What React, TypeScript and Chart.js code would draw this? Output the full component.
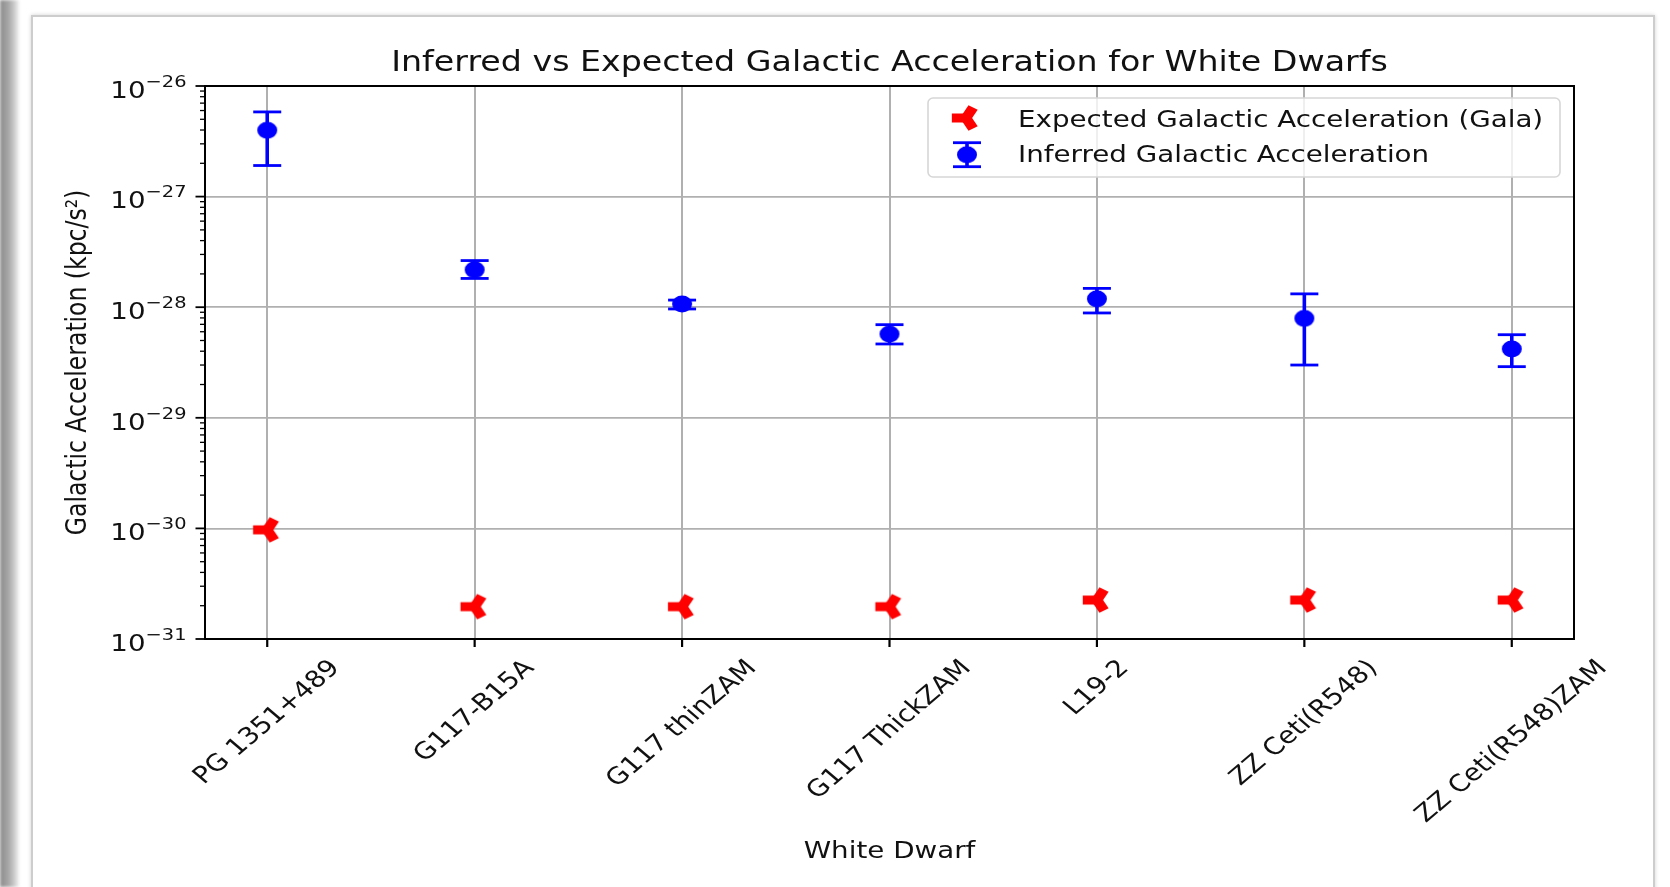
import React, { useEffect, useRef } from 'react';
import { Chart, registerables } from 'chart.js';

Chart.register(...registerables);

// ---------------- data ----------------
const categories = [
  'PG 1351+489',
  'G117-B15A',
  'G117 thinZAM',
  'G117 ThickZAM',
  'L19-2',
  'ZZ Ceti(R548)',
  'ZZ Ceti(R548)ZAM',
];
const expectedAccel = [9.7e-31, 1.96e-31, 1.96e-31, 1.96e-31, 2.25e-31, 2.25e-31, 2.25e-31];
const inferredAccel = [3.98e-27, 2.18e-28, 1.07e-28, 5.71e-29, 1.19e-28, 7.92e-29, 4.19e-29];
const inferredUpper = [5.83e-27, 2.64e-28, 1.16e-28, 6.95e-29, 1.48e-28, 1.32e-28, 5.64e-29];
const inferredLower = [1.91e-27, 1.82e-28, 9.64e-29, 4.65e-29, 8.87e-29, 3.0e-29, 2.9e-29];
const yExponents = [-31, -30, -29, -28, -27, -26];

const titleText = 'Inferred vs Expected Galactic Acceleration for White Dwarfs';
const xLabelText = 'White Dwarf';
const yLabelText = 'Galactic Acceleration (kpc/s²)';
const legendLabels = ['Expected Galactic Acceleration (Gala)', 'Inferred Galactic Acceleration'];

// ---------------- styling ----------------
const W = 1670;
const H = 887;
const SX = 1.18; // the reference is horizontally stretched
const FONT = "'DejaVu Sans', 'Liberation Sans', sans-serif";
const BASE = 23.5;
const TEXT = '#111111';
const GRID = '#b0b0b0';
const BLUE = '#0000ff';
const RED = '#ff0000';

function makeDot(): HTMLCanvasElement {
  const c = document.createElement('canvas');
  c.width = 26;
  c.height = 22;
  const ctx = c.getContext('2d')!;
  ctx.fillStyle = BLUE;
  ctx.beginPath();
  ctx.ellipse(13, 11, 10, 8.4, 0, 0, Math.PI * 2);
  ctx.fill();
  return c;
}

function makeTri(): HTMLCanvasElement {
  const c = document.createElement('canvas');
  c.width = 36;
  c.height = 34;
  const ctx = c.getContext('2d')!;
  ctx.translate(18, 17);
  ctx.scale(SX, 1);
  ctx.strokeStyle = RED;
  ctx.fillStyle = RED;
  ctx.lineWidth = 9;
  ctx.lineCap = 'butt';
  for (const a of [Math.PI, -Math.PI / 3, Math.PI / 3]) {
    ctx.beginPath();
    ctx.moveTo(0, 0);
    ctx.lineTo(12 * Math.cos(a), 12 * Math.sin(a));
    ctx.stroke();
  }
  ctx.beginPath();
  ctx.arc(0, 0, 4.5, 0, Math.PI * 2);
  ctx.fill();
  return c;
}

function sText(
  ctx: CanvasRenderingContext2D,
  text: string,
  x: number,
  y: number,
  size: number,
  align: CanvasTextAlign,
  baseline: CanvasTextBaseline,
  rot = 0
) {
  ctx.save();
  ctx.translate(x, y);
  ctx.scale(SX, 1);
  if (rot) ctx.rotate(rot);
  ctx.font = `${size}px ${FONT}`;
  ctx.textAlign = align;
  ctx.textBaseline = baseline;
  ctx.fillStyle = TEXT;
  ctx.fillText(text, 0, 0);
  ctx.restore();
}

function measure(ctx: CanvasRenderingContext2D, text: string, size: number) {
  ctx.save();
  ctx.font = `${size}px ${FONT}`;
  const w = ctx.measureText(text).width;
  ctx.restore();
  return w;
}

export default function App() {
  const ref = useRef<HTMLCanvasElement>(null);

  useEffect(() => {
    const canvas = ref.current!;
    const dot = makeDot();
    const tri = makeTri();

    const mpl = {
      id: 'mplLook',
      beforeDatasetsDraw(chart: any) {
        const { ctx } = chart;
        const x = chart.scales.x;
        const y = chart.scales.y;
        ctx.save();
        ctx.strokeStyle = BLUE;
        ctx.lineCap = 'butt';
        inferredAccel.forEach((_v, i) => {
          const px = x.getPixelForValue(i);
          const top = y.getPixelForValue(inferredUpper[i]);
          const bot = y.getPixelForValue(inferredLower[i]);
          ctx.lineWidth = 3.6;
          ctx.beginPath();
          ctx.moveTo(px, top);
          ctx.lineTo(px, bot);
          ctx.stroke();
          ctx.lineWidth = 2.8;
          for (const cy of [top, bot]) {
            ctx.beginPath();
            ctx.moveTo(px - 14, cy);
            ctx.lineTo(px + 14, cy);
            ctx.stroke();
          }
        });
        ctx.restore();
      },
      afterDraw(chart: any) {
        const { ctx, chartArea } = chart;
        const x = chart.scales.x;
        const y = chart.scales.y;
        const { left, right, top, bottom } = chartArea;
        ctx.save();

        // frame
        ctx.strokeStyle = '#000';
        ctx.lineWidth = 2;
        ctx.strokeRect(left, top, right - left, bottom - top);

        // x ticks + labels
        categories.forEach((lab, i) => {
          const px = x.getPixelForValue(i);
          ctx.lineWidth = 2.2;
          ctx.beginPath();
          ctx.moveTo(px, bottom);
          ctx.lineTo(px, bottom + 8);
          ctx.stroke();
          const w = measure(ctx, lab, BASE);
          const hb = BASE * 1.16;
          const bb = (w + hb) / Math.SQRT2;
          sText(ctx, lab, px, bottom + 16 + bb / 2, BASE, 'center', 'middle', -Math.PI / 4);
        });

        // y ticks + labels
        yExponents.forEach((e) => {
          const py = y.getPixelForValue(Math.pow(10, e));
          ctx.lineWidth = 1.8;
          ctx.beginPath();
          ctx.moveTo(left - 9.5, py);
          ctx.lineTo(left, py);
          ctx.stroke();
          if (e < yExponents[yExponents.length - 1]) {
            for (let m = 2; m <= 9; m++) {
              const pm = y.getPixelForValue(m * Math.pow(10, e));
              ctx.lineWidth = 1.3;
              ctx.beginPath();
              ctx.moveTo(left - 5, pm);
              ctx.lineTo(left, pm);
              ctx.stroke();
            }
          }
          const base = '10';
          const sup = '\u2212' + String(Math.abs(e));
          const supSize = BASE * 0.7;
          const w1 = measure(ctx, base, BASE);
          const w2 = measure(ctx, sup, supSize);
          const start = 186.5 - SX * (w1 + w2);
          sText(ctx, base, start, py + 11.8, BASE, 'left', 'alphabetic');
          sText(ctx, sup, start + SX * w1, py + 0.8, supSize, 'left', 'alphabetic');
        });

        // title and axis labels
        const cx = (left + right) / 2;
        sText(ctx, titleText, cx, 70.7, BASE * 1.2, 'center', 'alphabetic');
        sText(ctx, xLabelText, cx, 858.3, BASE, 'center', 'alphabetic');
        sText(ctx, yLabelText, 85.7, (top + bottom) / 2, BASE, 'center', 'alphabetic', -Math.PI / 2);

        // legend
        const lx = 928, ly = 98, lw = 632, lh = 79, r = 5;
        ctx.beginPath();
        ctx.moveTo(lx + r, ly);
        ctx.arcTo(lx + lw, ly, lx + lw, ly + lh, r);
        ctx.arcTo(lx + lw, ly + lh, lx, ly + lh, r);
        ctx.arcTo(lx, ly + lh, lx, ly, r);
        ctx.arcTo(lx, ly, lx + lw, ly, r);
        ctx.closePath();
        ctx.fillStyle = 'rgba(255,255,255,0.8)';
        ctx.fill();
        ctx.strokeStyle = '#d6d6d6';
        ctx.lineWidth = 1.6;
        ctx.stroke();

        ctx.drawImage(tri, 966 - tri.width / 2, 118 - tri.height / 2);
        ctx.strokeStyle = BLUE;
        ctx.lineWidth = 3.6;
        ctx.beginPath();
        ctx.moveTo(967, 142.7);
        ctx.lineTo(967, 166.7);
        ctx.stroke();
        ctx.lineWidth = 2.8;
        for (const cy of [142.7, 166.7]) {
          ctx.beginPath();
          ctx.moveTo(953, cy);
          ctx.lineTo(981, cy);
          ctx.stroke();
        }
        ctx.drawImage(dot, 967 - dot.width / 2, 154.7 - dot.height / 2);

        sText(ctx, legendLabels[0], 1018, 126.7, BASE, 'left', 'alphabetic');
        sText(ctx, legendLabels[1], 1018, 161.7, BASE, 'left', 'alphabetic');

        ctx.restore();
      },
    };

    const chart = new Chart(canvas, {
      type: 'scatter',
      data: {
        datasets: [
          {
            label: legendLabels[0],
            data: expectedAccel.map((v, i) => ({ x: i, y: v })),
            pointStyle: tri as any,
            pointRadius: 12,
            backgroundColor: RED,
            borderColor: RED,
          },
          {
            label: legendLabels[1],
            data: inferredAccel.map((v, i) => ({ x: i, y: v })),
            pointStyle: dot as any,
            pointRadius: 10,
            backgroundColor: BLUE,
            borderColor: BLUE,
          },
        ],
      },
      options: {
        responsive: false,
        animation: false,
        devicePixelRatio: 1,
        events: [],
        layout: { padding: { left: 205, top: 86, right: 96, bottom: 248 } },
        plugins: {
          legend: { display: false },
          title: { display: false },
          tooltip: { enabled: false },
        },
        scales: {
          x: {
            type: 'linear',
            min: -0.3,
            max: 6.3,
            afterBuildTicks: (s: any) => {
              s.ticks = categories.map((_c, i) => ({ value: i }));
            },
            afterFit: (s: any) => {
              s.height = 0;
            },
            ticks: { display: false },
            border: { display: false },
            grid: { color: GRID, lineWidth: 2, drawTicks: false },
          },
          y: {
            type: 'logarithmic',
            min: 1e-31,
            max: 1e-26,
            afterBuildTicks: (s: any) => {
              s.ticks = yExponents.map((e) => ({ value: Math.pow(10, e), major: true }));
            },
            afterFit: (s: any) => {
              s.width = 0;
            },
            ticks: { display: false },
            border: { display: false },
            grid: { color: GRID, lineWidth: 1.7, drawTicks: false },
          },
        },
      },
      plugins: [mpl],
    });

    return () => chart.destroy();
  }, []);

  return (
    <div style={{ position: 'fixed', left: 0, top: 0, width: W, height: H, background: '#ffffff', overflow: 'hidden' }}>
      <div
        style={{
          position: 'absolute',
          left: 0,
          top: 0,
          width: 20,
          height: H,
          background: 'linear-gradient(to right, #8a8a8a, #a9a9a9 45%, #d8d8d8 80%, #ffffff)',
          filter: 'blur(1.5px)',
        }}
      />
      <div
        style={{
          position: 'absolute',
          left: 31,
          top: 15,
          width: 1620,
          height: H + 20,
          border: '2px solid #cdcdcd',
          boxShadow: '0 0 4px rgba(0,0,0,0.18)',
          background: '#ffffff',
        }}
      />
      <canvas ref={ref} width={W} height={H} style={{ position: 'absolute', left: 0, top: 0, width: W, height: H }} />
    </div>
  );
}
